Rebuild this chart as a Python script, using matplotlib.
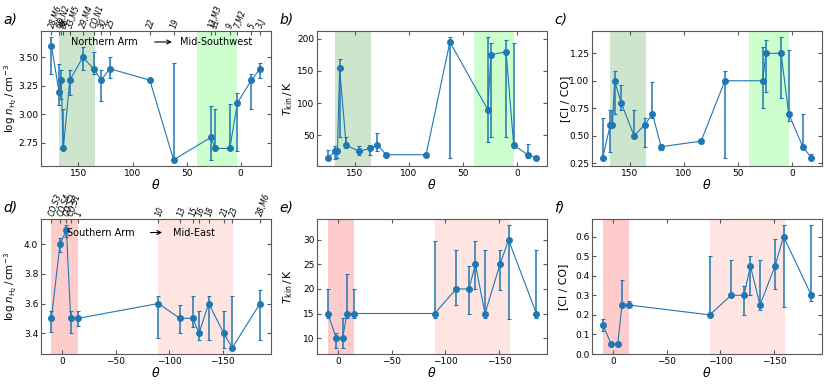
import matplotlib.pyplot as plt
import numpy as np

# top row: Northern Arm -> Mid-Southwest
theta_n = [175, 168, 166, 164, 158, 146, 136, 129, 121, 84, 62, 27, 24, 10, 3, -10, -18]
labels_n = ['28,M6', 'CO,N2', '35', '36', '33,M5', '29,M4', 'CO,N1', '30', '25',
            '22', '19', '12,M3', '11', '9', '7,M2', '5', '3,J']

nh2_n = [3.6, 3.2, 3.3, 2.7, 3.3, 3.5, 3.4, 3.3, 3.4, 3.3, 2.6, 2.8, 2.7, 2.7, 3.1, 3.3, 3.4]
nh2_n_lo = [3.35, 3.08, 3.13, 2.7, 3.17, 3.39, 3.35, 3.12, 3.32, 3.3, 2.6, 2.6, 2.7, 2.7, 2.68, 3.05, 3.32]
nh2_n_hi = [3.68, 3.44, 3.39, 3.05, 3.39, 3.59, 3.55, 3.39, 3.5, 3.3, 3.45, 3.07, 3.05, 3.09, 3.19, 3.35, 3.45]

tkin_n = [15, 25, 25, 155, 35, 25, 30, 35, 20, 20, 195, 90, 175, 180, 35, 20, 15]
tkin_n_lo = [13, 14, 15, 48, 30, 20, 20, 25, 18, 20, 15, 40, 48, 48, 30, 15, 12]
tkin_n_hi = [28, 33, 30, 168, 48, 33, 35, 53, 22, 20, 203, 203, 193, 198, 193, 37, 18]

ci_n = [0.30, 0.60, 0.60, 1.00, 0.80, 0.50, 0.60, 0.70, 0.40, 0.45, 1.00, 1.00, 1.25, 1.25, 0.70, 0.40, 0.30]
ci_n_lo = [0.28, 0.35, 0.58, 0.70, 0.73, 0.48, 0.40, 0.66, 0.37, 0.43, 0.30, 0.75, 0.90, 0.84, 0.63, 0.38, 0.28]
ci_n_hi = [0.66, 0.73, 0.73, 1.09, 0.96, 0.73, 0.66, 0.99, 0.42, 0.47, 1.09, 1.31, 1.37, 1.40, 1.28, 0.70, 0.33]

# bottom row: Southern Arm -> Mid-East
theta_s = [10, 2, -4, -8, -15, -90, -110, -122, -128, -137, -151, -159, -185]
labels_s = ['CO,S3', 'CO,S4', 'CO,S2', 'CO,S1', '1', '10', '13', '15', '16', '18', '21', '23', '28,M6']

nh2_s = [3.5, 4.0, 4.1, 3.5, 3.5, 3.6, 3.5, 3.5, 3.4, 3.6, 3.4, 3.3, 3.6]
nh2_s_lo = [3.41, 3.95, 4.05, 3.40, 3.45, 3.37, 3.40, 3.44, 3.35, 3.35, 3.30, 3.30, 3.35]
nh2_s_hi = [3.55, 4.04, 4.13, 3.55, 3.55, 3.65, 3.59, 3.65, 3.55, 3.65, 3.55, 3.65, 3.69]

tkin_s = [15, 10, 10, 15, 15, 15, 20, 20, 25, 15, 25, 30, 15]
tkin_s_lo = [14, 8, 8, 14, 14, 14, 16.8, 15, 20, 14, 19.8, 13.8, 14]
tkin_s_hi = [20, 11, 14, 23, 20, 29.7, 28, 24.7, 29.7, 28, 28, 33, 28]

ci_s = [0.15, 0.05, 0.05, 0.25, 0.25, 0.20, 0.30, 0.30, 0.45, 0.25, 0.45, 0.60, 0.30]
ci_s_lo = [0.12, 0.04, 0.04, 0.24, 0.24, 0.19, 0.29, 0.20, 0.30, 0.225, 0.33, 0.24, 0.27]
ci_s_hi = [0.18, 0.05, 0.05, 0.38, 0.27, 0.50, 0.48, 0.35, 0.50, 0.48, 0.59, 0.66, 0.66]

bands_n = [((168, 135), 'green'), ((40, 3), 'lime')]
bands_s = [((10, -15), 'red'), ((-90, -160), 'salmon')]

ylab_n = r'log $n_{\rm H_2}\,/\,{\rm cm^{-3}}$'
ylab_t = r'$T_{\rm kin}\,/\,{\rm K}$'
ylab_c = '[C\u2160 / CO]'

plt.rcParams['font.size'] = 7


def style_axis(ax):
    for s in ax.spines.values():
        s.set_color('0.35')
    ax.tick_params(direction='in', top=True, right=True, labelsize=6.5, length=3,
                   color='0.35', pad=2)


def panel(ax, theta, y, lo, hi, bands, ylabel, letter, label_x, label_size=7.8):
    y = np.array(y)
    yerr = [y - np.array(lo), np.array(hi) - y]
    for (x0, x1), c in bands:
        ax.axvspan(x0, x1, color=c, alpha=0.2, lw=0)
    ax.errorbar(theta, y, yerr=yerr, fmt='o-', color='#1f77b4', ms=4, lw=0.8,
                elinewidth=1.1, capsize=1.5, capthick=0.8)
    ax.invert_xaxis()
    ax.set_xlabel(r'$\theta$', fontsize=9, labelpad=0)
    ax.set_ylabel(ylabel, fontsize=label_size)
    ax.yaxis.set_label_coords(label_x, 0.5)
    style_axis(ax)
    ax.text(-0.165, 1.03, letter, transform=ax.transAxes, fontsize=10,
            style='italic', va='bottom')


def top_labels(ax, theta, labels):
    ax.tick_params(top=False)
    ax2 = ax.twiny()
    ax2.set_xlim(ax.get_xlim())
    ax2.set_xticks(theta)
    ax2.set_xticklabels(labels, rotation=70, fontsize=5.5, style='italic',
                        ha='left', va='center', rotation_mode='anchor')
    ax2.tick_params(direction='in', length=3, color='0.35', pad=2)
    for s in ax2.spines.values():
        s.set_visible(False)


fig = plt.figure(figsize=(8.3, 3.86), dpi=100)
W, H = 830, 386
lefts = [41, 317.3, 592.3]
width = 229.5
rows = [(30.7, 166), (219, 354)]
axes = []
for top, bot in rows:
    row = []
    for lx in lefts:
        row.append(fig.add_axes([lx / W, 1 - bot / H, width / W, (bot - top) / H]))
    axes.append(row)

(ax_a, ax_b, ax_c), (ax_d, ax_e, ax_f) = axes

panel(ax_a, theta_n, nh2_n, nh2_n_lo, nh2_n_hi, bands_n, ylab_n, 'a)', -0.098, 7.4)
panel(ax_b, theta_n, tkin_n, tkin_n_lo, tkin_n_hi, bands_n, ylab_t, 'b)', -0.097)
panel(ax_c, theta_n, ci_n, ci_n_lo, ci_n_hi, bands_n, ylab_c, 'c)', -0.097)
panel(ax_d, theta_s, nh2_s, nh2_s_lo, nh2_s_hi, bands_s, ylab_n, 'd)', -0.098, 7.4)
panel(ax_e, theta_s, tkin_s, tkin_s_lo, tkin_s_hi, bands_s, ylab_t, 'e)', -0.097)
panel(ax_f, theta_s, ci_s, ci_s_lo, ci_s_hi, bands_s, ylab_c, 'f)', -0.104)
ax_f.set_ylim(0, 0.69)

ax_a.set_yticks([2.75, 3.0, 3.25, 3.5])
ax_c.set_yticks([0.25, 0.5, 0.75, 1.0, 1.25])

# region annotations
ax_a.text(157, 3.635, 'Northern Arm', fontsize=7, va='center')
ax_a.annotate('', xy=(61, 3.635), xytext=(82, 3.635),
              arrowprops=dict(arrowstyle='->', color='k', lw=0.8))
ax_a.text(56, 3.635, 'Mid-Southwest', fontsize=7, va='center')

ax_d.text(-5, 4.08, 'Southern Arm', fontsize=7, va='center')
ax_d.annotate('', xy=(-96, 4.08), xytext=(-80, 4.08),
              arrowprops=dict(arrowstyle='->', color='k', lw=0.8))
ax_d.text(-104, 4.08, 'Mid-East', fontsize=7, va='center')

top_labels(ax_a, theta_n, labels_n)
top_labels(ax_d, theta_s, labels_s)

fig.savefig('out.png', dpi=100)
